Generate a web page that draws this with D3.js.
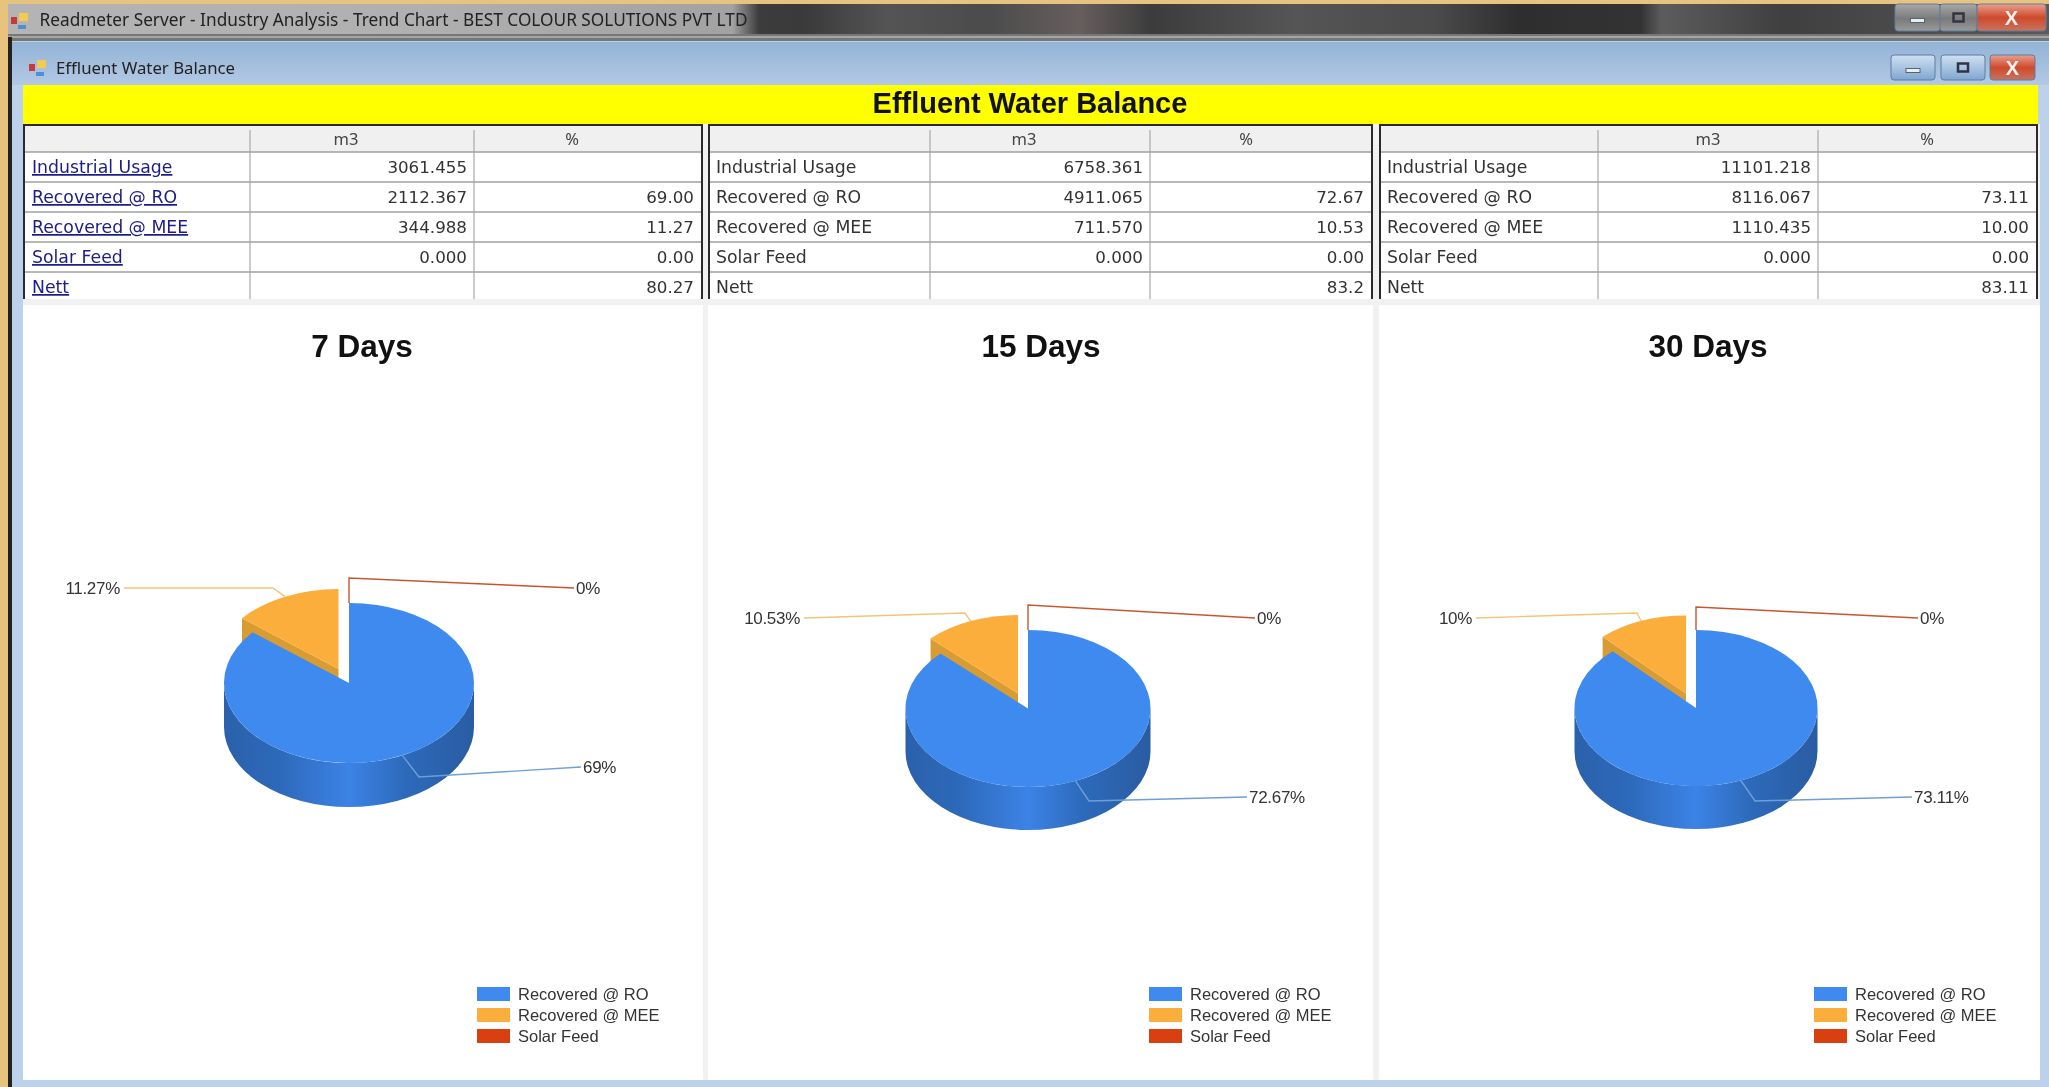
<!DOCTYPE html>
<html>
<head>
<meta charset="utf-8">
<script src="https://cdn.jsdelivr.net/npm/d3@7/dist/d3.min.js"></script>
<style>
  html, body { margin: 0; padding: 0; background: #e8c27f; overflow: hidden; }
  svg { display: block; filter: blur(0.6px); }
  .cell { font-family: "DejaVu Sans", sans-serif; font-size: 16.7px; fill: #333; }
  .name { font-size: 17.3px; }
  .link { fill: #1c1c8a; text-decoration: underline; }
  .head { font-family: "Noto Sans", sans-serif; font-size: 16.5px; fill: #444; }
  .pielabel { font-family: "Liberation Sans", sans-serif; font-size: 17px; fill: #333; letter-spacing: -0.3px; }
  .legend { font-family: "Liberation Sans", sans-serif; font-size: 16.5px; fill: #333; }
  .ctitle { font-family: "Liberation Sans", sans-serif; font-size: 31.5px; font-weight: bold; fill: #111; }
</style>
</head>
<body>
<svg width="2049" height="1087"></svg>
<script>
const windowTitle = "Readmeter Server - Industry Analysis - Trend Chart - BEST COLOUR SOLUTIONS PVT LTD";
const chartName = "Effluent Water Balance";
const rowNames = ["Industrial Usage", "Recovered @ RO", "Recovered @ MEE", "Solar Feed", "Nett"];
const sliceNames = ["Recovered @ RO", "Recovered @ MEE", "Solar Feed"];
const periods = ["7 Days", "15 Days", "30 Days"];

const m3Days7 = ["3061.455", "2112.367", "344.988", "0.000", ""];
const m3Days15 = ["6758.361", "4911.065", "711.570", "0.000", ""];
const m3Days30 = ["11101.218", "8116.067", "1110.435", "0.000", ""];
const pctDays7 = ["", "69.00", "11.27", "0.00", "80.27"];
const pctDays15 = ["", "72.67", "10.53", "0.00", "83.2"];
const pctDays30 = ["", "73.11", "10.00", "0.00", "83.11"];
const pieDays7 = [69, 11.27, 0];
const pieDays15 = [72.67, 10.53, 0];
const pieDays30 = [73.11, 10, 0];

const colors = ["#3f8aee", "#fbae3c", "#d9400f"];
const leaderColors = ["#6f9fd6", "#f6c477", "#c9552f"];

// where each of the three columns sits on the form
const layout = [
  { x0: 24, x1: 702, col1: 250, col2: 474, headM3: 346, headPct: 572, links: true,
    titleX: 362, cx: 349, cy: 683, rx: 125, ry: 80, depth: 44, dx: -10.5, dy: -14,
    legendX: 477, elbow: [[419, 777], [273, 588], [349, 578]],
    end: [[581, 767], [124, 588], [574, 588]] },
  { x0: 709, x1: 1372, col1: 930, col2: 1150, headM3: 1024, headPct: 1246, links: false,
    titleX: 1041, cx: 1028, cy: 708.5, rx: 122.5, ry: 78.5, depth: 43, dx: -10, dy: -15,
    legendX: 1149, elbow: [[1089, 801], [965, 613], [1028, 605]],
    end: [[1247, 797], [804, 618], [1255, 618]] },
  { x0: 1380, x1: 2037, col1: 1598, col2: 1818, headM3: 1708, headPct: 1927, links: false,
    titleX: 1708, cx: 1696, cy: 708, rx: 121.5, ry: 78, depth: 43, dx: -10, dy: -14.5,
    legendX: 1814, elbow: [[1755, 801], [1637, 613], [1696, 607]],
    end: [[1912, 797], [1476, 618], [1918, 618]] }
];

const m3Columns = [m3Days7, m3Days15, m3Days30];
const pctColumns = [pctDays7, pctDays15, pctDays30];
const pieColumns = [pieDays7, pieDays15, pieDays30];

const svg = d3.select("svg");
const defs = svg.append("defs");

function gradient(id, vertical, stops) {
  const g = defs.append("linearGradient").attr("id", id)
    .attr("x1", 0).attr("y1", 0)
    .attr("x2", vertical ? 0 : 1).attr("y2", vertical ? 1 : 0);
  stops.forEach(s => g.append("stop").attr("offset", s[0]).attr("stop-color", s[1]));
}

gradient("barH", false, [[0, "#b4b4b4"], [0.2, "#b0b0b0"], [0.355, "#a2a2a2"], [0.368, "#3c3c3c"], [0.39, "#3a3a3a"], [0.43, "#545454"], [0.48, "#4b4b4b"], [0.525, "#675e5e"], [0.56, "#3c3c3c"], [0.63, "#555"], [0.7, "#4a4a4a"], [0.74, "#2e2e2e"], [0.8, "#333"], [0.81, "#5c5c5c"], [0.87, "#3f3f3f"], [1, "#5a5a5a"]]);
gradient("formBar", true, [[0, "#93b3d8"], [0.5, "#a3bedc"], [1, "#b2c9e7"]]);
gradient("wall", false, [[0, "#2b61ab"], [0.22, "#2d69ba"], [0.5, "#3c83e6"], [0.72, "#2d6abb"], [1, "#2a5ca2"]]);
gradient("btnBlue", true, [[0, "#cfe0f1"], [0.5, "#a9c5e2"], [1, "#7fa6d0"]]);
gradient("btnRed", true, [[0, "#e9a08f"], [0.5, "#cf4a2c"], [1, "#c9735f"]]);
gradient("btnGrey", true, [[0, "#a8a8a8"], [0.55, "#7a7a7a"], [1, "#9a9a9a"]]);

// outer window
svg.append("rect").attr("x", 8).attr("y", 4).attr("width", 2041).attr("height", 30).attr("fill", "url(#barH)");
svg.append("rect").attr("x", 8).attr("y", 34).attr("width", 2041).attr("height", 7).attr("fill", "#777");
svg.append("rect").attr("x", 8).attr("y", 36).attr("width", 2041).attr("height", 2).attr("fill", "#a5a5a5");
svg.append("rect").attr("x", 8).attr("y", 37).attr("width", 4).attr("height", 1050).attr("fill", "#222");

function appIcon(x, y) {
  svg.append("rect").attr("x", x).attr("y", y + 4).attr("width", 6).attr("height", 7).attr("fill", "#c8393a");
  svg.append("rect").attr("x", x + 8).attr("y", y).attr("width", 9).attr("height", 8).attr("fill", "#f3cb4f");
  svg.append("rect").attr("x", x + 7).attr("y", y + 12).attr("width", 8).attr("height", 4).attr("fill", "#4f8fd8");
}
appIcon(11, 13);
svg.append("text").attr("x", 39.5).attr("y", 26).text(windowTitle)
  .attr("font-family", "Noto Sans").attr("font-size", 17.5).attr("fill", "#222")
  .attr("textLength", 708).attr("lengthAdjust", "spacingAndGlyphs");

// inner form
svg.append("path").attr("d", "M12,1087V47Q12,41 18,41H2049V1087Z").attr("fill", "#bcd2ea");
svg.append("rect").attr("x", 12).attr("y", 42).attr("width", 2037).attr("height", 43).attr("fill", "url(#formBar)");
appIcon(29, 60);
svg.append("text").attr("x", 56).attr("y", 74).text(chartName)
  .attr("font-family", "Noto Sans").attr("font-size", 16.5).attr("fill", "#222")
  .attr("textLength", 179).attr("lengthAdjust", "spacingAndGlyphs");

function winButton(x, y, w, h, fill, mark) {
  svg.append("rect").attr("x", x).attr("y", y).attr("width", w).attr("height", h).attr("rx", 3)
    .attr("fill", fill).attr("stroke", "#5f7d9f");
  const mx = x + w / 2, my = y + h / 2;
  if (mark === "min") svg.append("rect").attr("x", mx - 7).attr("y", my + 1).attr("width", 14).attr("height", 4).attr("fill", "#e8eef5").attr("stroke", "#566");
  if (mark === "max") svg.append("rect").attr("x", mx - 5).attr("y", my - 4).attr("width", 10).attr("height", 8).attr("fill", "none").attr("stroke", "#334").attr("stroke-width", 2.5);
  if (mark === "close") svg.append("text").attr("x", mx).attr("y", my + 7).attr("text-anchor", "middle")
    .attr("font-family", "Liberation Sans").attr("font-weight", "bold").attr("font-size", 20).attr("fill", "#f4f0ec").text("X");
}
winButton(1895, 4, 45, 27, "url(#btnGrey)", "min");
winButton(1940, 4, 37, 27, "url(#btnGrey)", "max");
winButton(1977, 4, 69, 27, "url(#btnRed)", "close");
winButton(1891, 55, 44, 25, "url(#btnBlue)", "min");
winButton(1941, 55, 44, 25, "url(#btnBlue)", "max");
winButton(1990, 55, 45, 25, "url(#btnRed)", "close");

// yellow heading and the white work area
svg.append("rect").attr("x", 23).attr("y", 85).attr("width", 2015).attr("height", 40).attr("fill", "#ffff00");
svg.append("text").attr("class", "ctitle").attr("x", 1030).attr("y", 113).attr("text-anchor", "middle")
  .style("font-size", "29px").text(chartName);
svg.append("rect").attr("x", 23).attr("y", 124).attr("width", 2017).attr("height", 956).attr("fill", "#f1f1f1");

const rowTops = [152, 182, 212, 242, 272];
const rowBottom = 299;

const pie = d3.pie().sort(null).value(d => d);

layout.forEach((p, i) => {
  const g = svg.append("g");
  const panelRight = i === 2 ? 2040 : p.x1 + 1;
  const panelLeft = i === 0 ? 23 : p.x0 - 1;

  // chart area
  g.append("rect").attr("x", panelLeft).attr("y", 305).attr("width", panelRight - panelLeft).attr("height", 775).attr("fill", "#fff");

  // table
  g.append("rect").attr("x", p.x0).attr("y", 125).attr("width", p.x1 - p.x0).attr("height", 27).attr("fill", "#f0f0f0");
  g.append("rect").attr("x", p.x0).attr("y", 152).attr("width", p.x1 - p.x0).attr("height", rowBottom - 152).attr("fill", "#fff");
  g.selectAll(".hline").data(rowTops).join("line")
    .attr("x1", p.x0).attr("x2", p.x1).attr("y1", d => d).attr("y2", d => d)
    .attr("stroke", "#a0a0a0").attr("stroke-width", 1.5);
  g.selectAll(".vline").data([p.col1, p.col2]).join("line")
    .attr("x1", d => d).attr("x2", d => d).attr("y1", 130).attr("y2", rowBottom)
    .attr("stroke", "#a8a8a8").attr("stroke-width", 1.2);
  g.append("path").attr("d", `M${p.x0},${rowBottom}V125H${p.x1}V${rowBottom}`)
    .attr("fill", "none").attr("stroke", "#2a2a2a").attr("stroke-width", 2);

  g.append("text").attr("class", "head").attr("x", p.headM3).attr("y", 145).attr("text-anchor", "middle").text("m3");
  g.append("text").attr("class", "head").attr("x", p.headPct).attr("y", 145).attr("text-anchor", "middle").text("%");

  g.selectAll(".rowname").data(rowNames).join("text")
    .attr("class", p.links ? "cell name link" : "cell name")
    .attr("x", p.x0 + (p.links ? 8 : 7)).attr("y", (d, k) => rowTops[k] + 21).text(d => d);
  g.selectAll(".m3val").data(m3Columns[i]).join("text")
    .attr("class", "cell").attr("text-anchor", "end")
    .attr("x", p.col2 - 7).attr("y", (d, k) => rowTops[k] + 21).text(d => d);
  g.selectAll(".pctval").data(pctColumns[i]).join("text")
    .attr("class", "cell").attr("text-anchor", "end")
    .attr("x", p.x1 - 8).attr("y", (d, k) => rowTops[k] + 21).text(d => d);

  g.append("text").attr("class", "ctitle").attr("x", p.titleX).attr("y", 357)
    .attr("text-anchor", "middle").text(periods[i]);

  // pie, squashed into an ellipse and given a wall
  const slices = pie(pieColumns[i]);
  const flat = `scale(1,${p.ry / p.rx})`;
  const arc = d3.arc().innerRadius(0).outerRadius(p.rx);
  const mee = slices[1];
  const tipX = p.cx + p.dx, tipY = p.cy + p.dy;
  const cornerX = tipX + p.rx * Math.sin(mee.startAngle);
  const cornerY = tipY - p.ry * Math.cos(mee.startAngle);

  // cut face of the pulled out slice, the blue top hides most of it
  g.append("path")
    .attr("d", `M${tipX},${tipY}L${cornerX},${cornerY}V${cornerY + p.depth}L${tipX},${tipY + p.depth}Z`)
    .attr("fill", "#d99c33");
  g.append("path").attr("transform", `translate(${tipX},${tipY}) ${flat}`)
    .attr("d", arc(mee)).attr("fill", colors[1]);

  g.append("path")
    .attr("d", `M${p.cx - p.rx},${p.cy}A${p.rx},${p.ry} 0 0 0 ${p.cx + p.rx},${p.cy}V${p.cy + p.depth}A${p.rx},${p.ry} 0 0 1 ${p.cx - p.rx},${p.cy + p.depth}Z`)
    .attr("fill", "url(#wall)");
  g.append("path").attr("transform", `translate(${p.cx},${p.cy}) ${flat}`)
    .attr("d", arc(slices[0])).attr("fill", colors[0]);

  // leader lines start at the middle of each slice
  slices.forEach((s, k) => {
    const mid = (s.startAngle + s.endAngle) / 2;
    const ox = k === 1 ? tipX : p.cx, oy = k === 1 ? tipY : p.cy;
    const pts = [[ox + p.rx * Math.sin(mid), oy - p.ry * Math.cos(mid)], p.elbow[k], p.end[k]];
    g.append("path").attr("d", d3.line()(pts)).attr("fill", "none")
      .attr("stroke", leaderColors[k]).attr("stroke-width", 1.4);
    const leftSide = p.end[k][0] < p.cx;
    g.append("text").attr("class", "pielabel")
      .attr("x", p.end[k][0] + (leftSide ? -4 : 2)).attr("y", p.end[k][1] + 6)
      .attr("text-anchor", leftSide ? "end" : "start")
      .text(pieColumns[i][k] + "%");
  });

  // legend
  const rowY = d3.scaleBand().domain(sliceNames).range([984, 1047]);
  const leg = g.selectAll(".leg").data(sliceNames).join("g")
    .attr("transform", d => `translate(${p.legendX},${rowY(d)})`);
  leg.append("rect").attr("y", 3).attr("width", 33).attr("height", 14).attr("fill", (d, k) => colors[k]);
  leg.append("text").attr("class", "legend").attr("x", 41).attr("y", 16).text(d => d);
});
</script>
</body>
</html>
